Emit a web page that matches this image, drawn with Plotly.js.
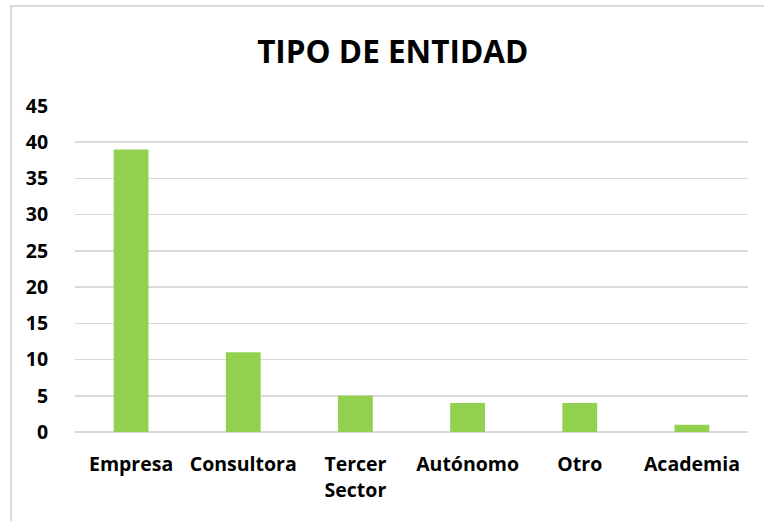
<!DOCTYPE html>
<html><head><meta charset="utf-8">
<script src="https://cdn.plot.ly/plotly-3.0.1.min.js"></script>
<style>html,body{margin:0;padding:0;background:#fff}#c{width:764px;height:521px}</style>
</head><body><div id="c"></div>
<script>
const categories = ["Empresa", "Consultora", "Tercer<br>Sector", "Autónomo", "Otro", "Academia"];
const values = [39, 11, 5, 4, 4, 1];
const yTicks = [0, 5, 10, 15, 20, 25, 30, 35, 40, 45];

const fam = "'Open Sans', sans-serif";
Plotly.newPlot("c", [{
  type: "bar", x: categories, y: values,
  marker: {color: "#92D050"}, hoverinfo: "x+y"
}], {
  width: 764, height: 521,
  margin: {l: 75, r: 16, t: 106, b: 89},
  paper_bgcolor: "#fff", plot_bgcolor: "#fff",
  bargap: 0.69,
  title: {text: "<b>TIPO DE ENTIDAD</b>", x: 0.514, xref: "container", xanchor: "center",
    y: 0.901, yref: "container", yanchor: "middle",
    font: {family: fam, size: 31.5, color: "#000"}},
  xaxis: {type: "category", showgrid: false, zeroline: false, showline: false,
    ticks: "outside", ticklen: 15, tickcolor: "rgba(0,0,0,0)",
    tickfont: {family: fam, size: 19.5, color: "#000", weight: "bold"}},
  yaxis: {range: [0, 45], tickvals: yTicks, showgrid: true, gridcolor: "#d9d9d9", gridwidth: 1.5,
    zeroline: true, zerolinecolor: "#d9d9d9", zerolinewidth: 1.5, showline: false,
    ticks: "outside", ticklen: 22, tickcolor: "rgba(0,0,0,0)",
    tickfont: {family: fam, size: 19.5, color: "#000", weight: "bold"}},
  shapes: [{type: "rect", xref: "paper", yref: "paper", x0: -0.0951, x1: 1.3, y0: -1, y1: 1.3067,
    line: {color: "#d9d9d9", width: 2}, fillcolor: "rgba(0,0,0,0)", layer: "below"}],
  showlegend: false
}, {displayModeBar: false, staticPlot: true});
</script></body></html>
